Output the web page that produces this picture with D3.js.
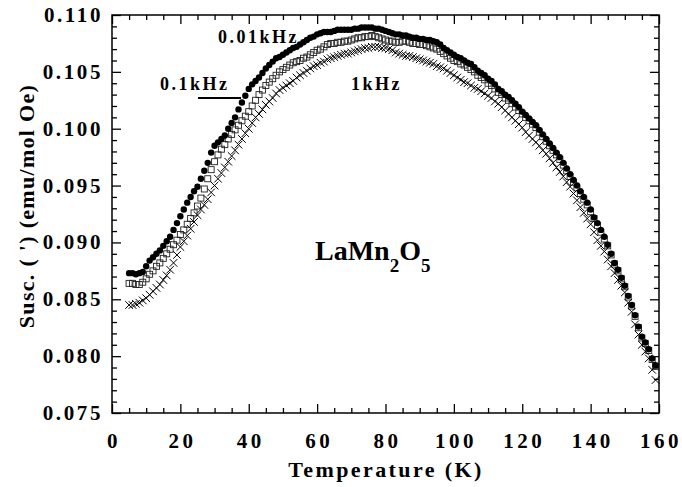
<!DOCTYPE html>
<html lang="en">
<head>
<meta charset="utf-8">
<script src="https://d3js.org/d3.v7.min.js"></script>
<style>
  body { margin: 0; background: #fff; }
  svg { display: block; }
  text { font-family: 'Liberation Serif', 'Times New Roman', serif; font-weight: bold; fill: #000; }
</style>
</head>
<body>
<svg id="chart" width="682" height="487"></svg>
<script>
// temperatures (K), shared by the three series
const temps = [5,6,7,8,9,10,11,12,13,14,15,16,17,18,19,20,21,22,23,24,25,26,27,28,29,30,
  31,32,33,34,35,36,37,38,39,40,41,42,43,44,45,46,47,48,49,50,51,52,53,54,55,56,57,58,59,60,
  61,62,63,64,65,66,67,68,69,70,71,72,73,74,75,76,77,78,79,80,81,82,83,84,85,86,87,88,89,90,
  91,92,93,94,95,96,97,98,99,100,101,102,103,104,105,106,107,108,109,110,111,112,113,114,115,
  116,117,118,119,120,121,122,123,124,125,126,127,128,129,130,131,132,133,134,135,136,137,138,
  139,140,141,142,143,144,145,146,147,148,149,150,151,152,153,154,155,156,157,158,159];

// 0.01 kHz (filled circles)
const susc001 = [.0873,.0873,.0872,.0873,.0874,.0879,.0884,.0887,.0890,.0893,.0897,.0901,.0905,.0911,.0917,.0923,
  .0929,.0935,.0940,.0945,.0949,.0956,.0963,.0970,.0979,.0985,.0988,.0991,.0994,.1000,.1005,.1010,.1017,.1023,
  .1029,.1035,.1039,.1042,.1045,.1049,.1053,.1056,.1059,.1062,.1063,.1065,.1067,.1069,.1071,.1072,.1074,.1076,
  .1078,.1080,.1081,.1083,.1084,.1085,.1085,.1085,.1086,.1087,.1087,.1087,.1087,.1087,.1088,.1088,.1089,.1089,
  .1089,.1089,.1088,.1088,.1087,.1086,.1085,.1084,.1083,.1083,.1082,.1082,.1081,.1080,.1080,.1079,.1079,.1078,
  .1078,.1077,.1076,.1074,.1071,.1069,.1067,.1065,.1063,.1062,.1060,.1058,.1057,.1054,.1051,.1049,.1047,.1044,
  .1042,.1039,.1035,.1033,.1030,.1028,.1025,.1022,.1019,.1015,.1012,.1009,.1006,.1003,.0999,.0995,.0991,.0987,
  .0983,.0979,.0975,.0970,.0965,.0960,.0955,.0950,.0945,.0940,.0935,.0929,.0922,.0917,.0911,.0905,.0898,.0890,
  .0882,.0876,.0869,.0862,.0853,.0845,.0836,.0826,.0817,.0812,.0806,.0798,.0792];

// 0.1 kHz (open squares)
const susc01 = [.0864,.0864,.0863,.0863,.0865,.0868,.0872,.0875,.0879,.0882,.0886,.0890,.0894,.0898,.0902,.0907,
  .0911,.0916,.0921,.0926,.0932,.0939,.0947,.0956,.0964,.0971,.0977,.0982,.0986,.0991,.0995,.0999,.1003,.1007,
  .1011,.1015,.1020,.1025,.1030,.1034,.1038,.1041,.1044,.1047,.1050,.1052,.1054,.1056,.1058,.1059,.1060,.1062,
  .1063,.1065,.1067,.1069,.1070,.1072,.1074,.1075,.1075,.1076,.1076,.1077,.1077,.1078,.1079,.1080,.1080,.1081,
  .1081,.1082,.1081,.1080,.1079,.1078,.1077,.1077,.1076,.1076,.1077,.1077,.1076,.1075,.1075,.1074,.1074,.1073,
  .1072,.1071,.1070,.1068,.1066,.1064,.1062,.1060,.1059,.1057,.1056,.1054,.1052,.1050,.1047,.1045,.1043,.1040,
  .1038,.1035,.1032,.1030,.1027,.1025,.1022,.1019,.1016,.1013,.1010,.1007,.1004,.1001,.0997,.0993,.0989,.0985,
  .0981,.0977,.0973,.0968,.0963,.0958,.0953,.0948,.0943,.0938,.0933,.0927,.0921,.0915,.0909,.0903,.0897,.0889,
  .0881,.0875,.0868,.0861,.0852,.0844,.0835,.0825,.0816,.0811,.0805,.0797,.0791];

// 1 kHz (crosses)
const susc1 = [.0845,.0845,.0846,.0847,.0849,.0851,.0854,.0857,.0860,.0863,.0867,.0871,.0876,.0882,.0889,.0896,
  .0901,.0906,.0912,.0918,.0924,.0929,.0933,.0938,.0944,.0950,.0956,.0961,.0966,.0971,.0976,.0981,.0986,.0991,
  .0996,.1000,.1005,.1010,.1013,.1017,.1021,.1024,.1027,.1031,.1034,.1036,.1038,.1040,.1042,.1045,.1047,.1049,
  .1051,.1053,.1055,.1056,.1058,.1059,.1061,.1062,.1063,.1064,.1065,.1066,.1066,.1067,.1068,.1069,.1070,.1071,
  .1071,.1072,.1072,.1072,.1071,.1071,.1070,.1069,.1067,.1066,.1065,.1064,.1064,.1063,.1062,.1061,.1060,.1059,
  .1058,.1057,.1055,.1054,.1053,.1051,.1049,.1047,.1045,.1043,.1041,.1040,.1038,.1036,.1035,.1033,.1031,.1029,
  .1027,.1024,.1022,.1019,.1016,.1013,.1010,.1007,.1004,.1001,.0997,.0994,.0991,.0988,.0985,.0981,.0978,.0974,
  .0970,.0966,.0962,.0958,.0953,.0949,.0943,.0937,.0931,.0926,.0921,.0916,.0909,.0902,.0897,.0892,.0885,.0879,
  .0873,.0867,.0862,.0856,.0847,.0839,.0828,.0819,.0810,.0804,.0798,.0788,.0779];

const xTicks = [0, 20, 40, 60, 80, 100, 120, 140, 160];
const yTicks = [0.075, 0.080, 0.085, 0.090, 0.095, 0.100, 0.105, 0.110];

const svg = d3.select('#chart');
const plotL = 112, plotR = 659, plotT = 15, plotB = 413;

const x = d3.scaleLinear().domain([0, 160]).range([plotL, plotR]);
const y = d3.scaleLinear().domain([0.075, 0.110]).range([plotB, plotT]);

const xMinor = d3.range(0, 161, 5).filter(v => v % 20 !== 0);
const yMinor = d3.range(75, 111, 1).filter(v => v % 5 !== 0).map(v => v / 1000);

// inward ticks on all four sides
function axisSet(axisFn, scale, major, minor, tr) {
  const g = svg.append('g').attr('transform', tr);
  g.call(axisFn(scale).tickValues(major).tickSize(-9).tickFormat(''));
  g.append('g').call(axisFn(scale).tickValues(minor).tickSize(-5).tickFormat(''));
  g.selectAll('.domain').remove();
  g.selectAll('line').attr('stroke', '#000').attr('stroke-width', 1.3);
  return g;
}
axisSet(d3.axisBottom, x, xTicks, xMinor, `translate(0,${plotB})`);
axisSet(d3.axisTop, x, xTicks, xMinor, `translate(0,${plotT})`);
axisSet(d3.axisLeft, y, yTicks, yMinor, `translate(${plotL},0)`);
axisSet(d3.axisRight, y, yTicks, yMinor, `translate(${plotR},0)`);

svg.append('rect')
  .attr('x', plotL).attr('y', plotT)
  .attr('width', plotR - plotL).attr('height', plotB - plotT)
  .attr('fill', 'none').attr('stroke', '#000').attr('stroke-width', 1.5);

// tick labels
svg.append('g').selectAll('text').data(xTicks).join('text')
  .attr('x', d => x(d) + 2).attr('y', 448)
  .attr('text-anchor', 'middle')
  .style('font-size', '21px').style('letter-spacing', '3.5px')
  .text(d => d);

svg.append('g').selectAll('text').data(yTicks).join('text')
  .attr('x', 103).attr('y', d => y(d) + 7)
  .attr('text-anchor', 'end')
  .style('font-size', '21px').style('letter-spacing', '2.6px')
  .text(d => d3.format('.3f')(d));

// axis titles
svg.append('text')
  .attr('x', 386).attr('y', 477)
  .attr('text-anchor', 'middle')
  .style('font-size', '22px').style('letter-spacing', '2.4px')
  .text('Temperature (K)');

svg.append('text')
  .attr('transform', 'translate(34,206) rotate(-90)')
  .attr('text-anchor', 'middle')
  .style('font-size', '22px').style('letter-spacing', '1.3px')
  .text("Susc. ( ') (emu/mol Oe)");

// data marks
const rows = temps.map((t, i) => ({ t, a: susc001[i], b: susc01[i], c: susc1[i] }));

svg.append('g').selectAll('rect').data(rows).join('rect')
  .attr('x', d => x(d.t) - 3).attr('y', d => y(d.b) - 3)
  .attr('width', 6).attr('height', 6)
  .attr('fill', 'none').attr('stroke', '#222').attr('stroke-width', 0.9);

const times = d3.symbol().type(d3.symbolTimes).size(40);
svg.append('g').selectAll('path').data(rows).join('path')
  .attr('transform', d => `translate(${x(d.t)},${y(d.c)})`)
  .attr('d', times)
  .attr('fill', 'none').attr('stroke', '#000').attr('stroke-width', 1);

svg.append('g').selectAll('circle').data(rows).join('circle')
  .attr('cx', d => x(d.t)).attr('cy', d => y(d.a))
  .attr('r', 3.2).attr('fill', '#000');

// annotations
svg.append('text').attr('x', 218).attr('y', 43)
  .style('font-size', '18px').style('letter-spacing', '2.5px').text('0.01kHz');
svg.append('text').attr('x', 160).attr('y', 90)
  .style('font-size', '18px').style('letter-spacing', '2.5px').text('0.1kHz');
svg.append('line')
  .attr('x1', 198).attr('x2', 241).attr('y1', 98).attr('y2', 98)
  .attr('stroke', '#000').attr('stroke-width', 2);
svg.append('text').attr('x', 351).attr('y', 90)
  .style('font-size', '18px').style('letter-spacing', '2.5px').text('1kHz');

const formula = svg.append('text').attr('x', 315).attr('y', 260)
  .style('font-size', '28px');
formula.append('tspan').text('LaMn');
formula.append('tspan').attr('dy', 12).style('font-size', '19px').text('2');
formula.append('tspan').attr('dy', -12).text('O');
formula.append('tspan').attr('dy', 12).style('font-size', '19px').text('5');
</script>
</body>
</html>
